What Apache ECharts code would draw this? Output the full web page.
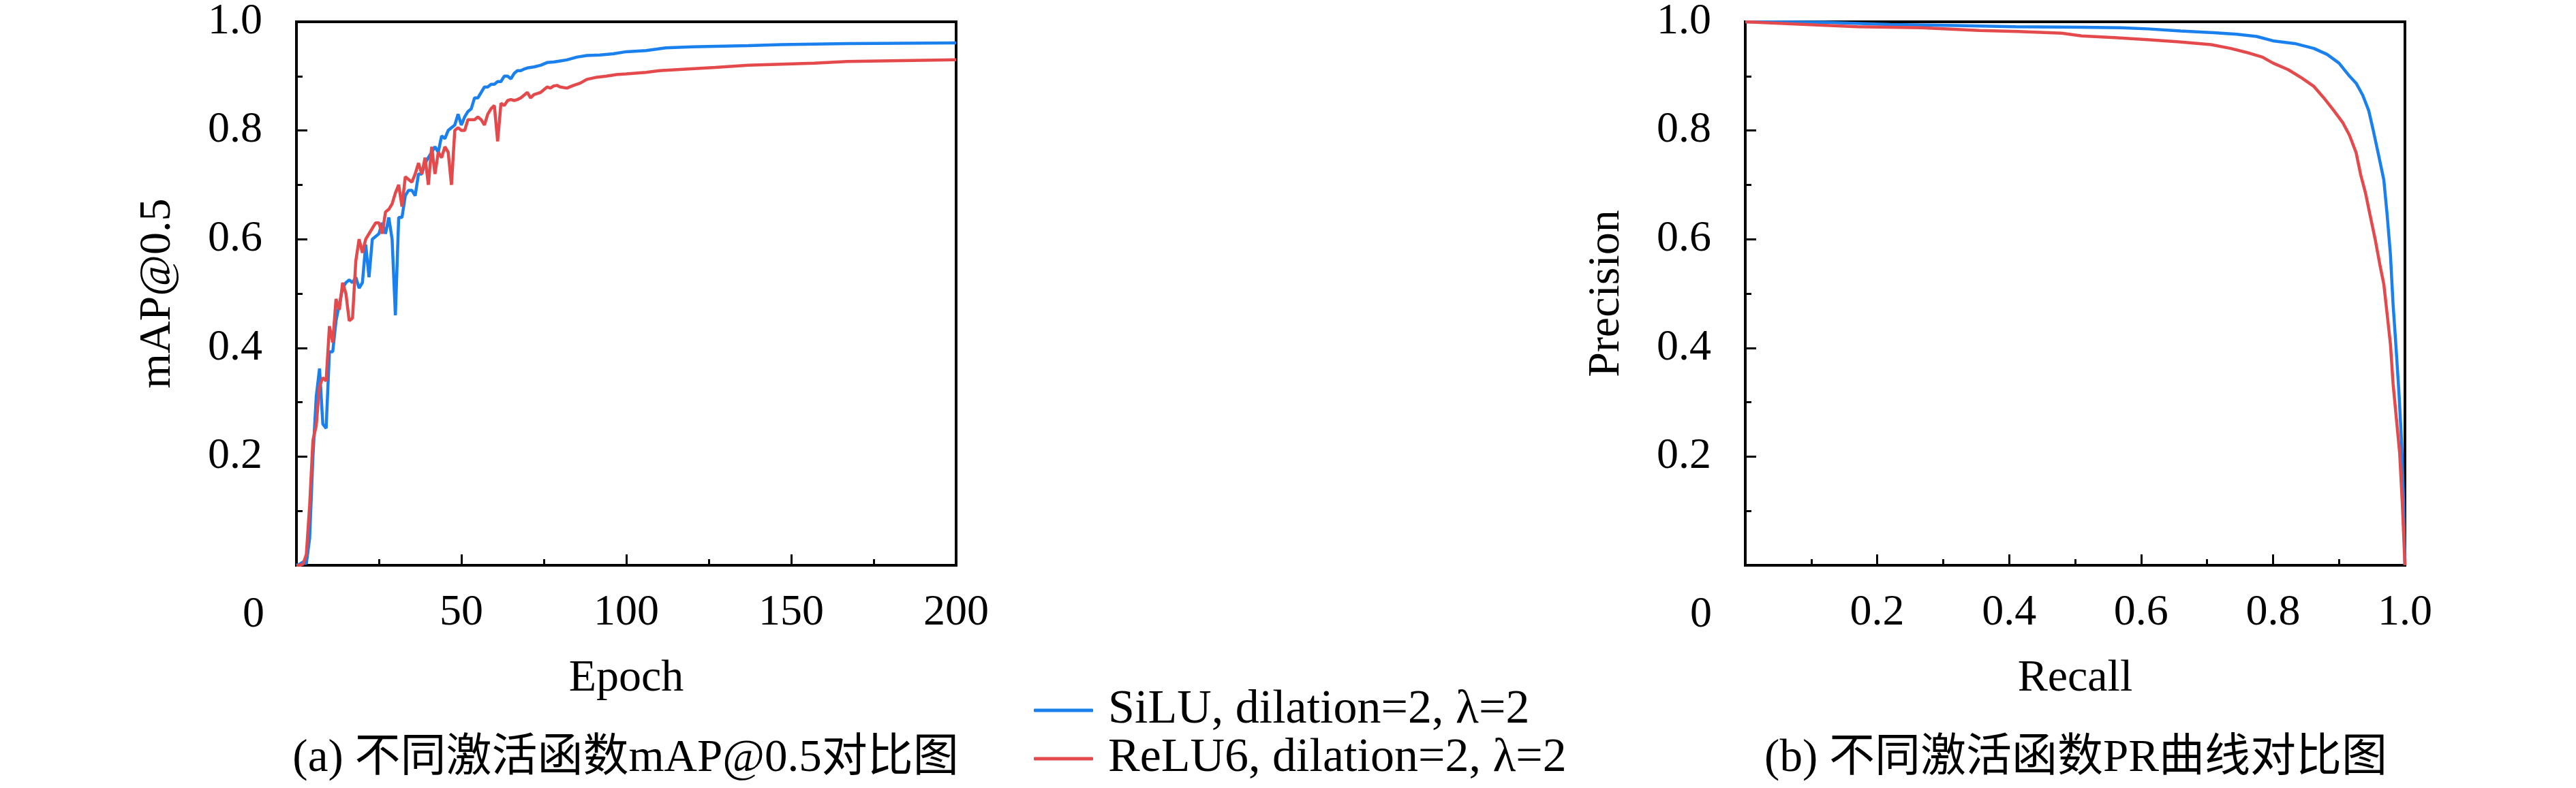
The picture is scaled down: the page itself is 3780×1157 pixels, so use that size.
<!DOCTYPE html>
<html>
<head>
<meta charset="utf-8">
<script src="https://cdn.jsdelivr.net/npm/echarts@6/dist/echarts.min.js"></script>
<style>
  html, body { margin: 0; padding: 0; background: #fff; }
  #chart { width: 3780px; height: 1157px; }
</style>
</head>
<body>
<div id="chart"></div>
<script>
// (a) mAP@0.5 vs epoch
const siluEpochs = [0,1,2,3,4,5,6,7,8,9,10,11,12,13,14,15,16,17,18,19,20,21,22,23,24,25,26,27,28,29,30,31,32,33,34,35,36,37,38,39,40,41,42,43,44,45,46,47,48,49,50,51,52,53,54,55,56,57,58,59,60,61,62,63,64,65,66,67,68,69,70,72,74,76,78,80,82,85,88,92,96,100,106,112,120,127,137,147,167,200];
const siluMap = [0,0.002,0.006,0.003,0.05,0.2,0.31,0.362,0.26,0.252,0.393,0.393,0.45,0.48,0.51,0.52,0.525,0.52,0.53,0.51,0.52,0.59,0.53,0.6,0.605,0.61,0.63,0.61,0.64,0.6,0.46,0.64,0.64,0.68,0.69,0.69,0.68,0.72,0.72,0.74,0.75,0.76,0.77,0.76,0.79,0.785,0.8,0.805,0.81,0.83,0.81,0.825,0.835,0.84,0.86,0.86,0.87,0.88,0.88,0.885,0.885,0.89,0.89,0.9,0.9,0.895,0.905,0.91,0.91,0.913,0.915,0.917,0.92,0.925,0.926,0.928,0.93,0.935,0.938,0.939,0.941,0.945,0.947,0.952,0.954,0.955,0.956,0.958,0.96,0.961];
const relu6Epochs = [0,1,2,3,4,5,6,7,8,9,10,11,12,13,14,15,16,17,18,19,20,21,22,23,24,25,26,27,28,29,30,31,32,33,34,35,36,37,38,39,40,41,42,43,44,45,46,47,48,49,50,51,52,53,54,55,56,57,58,59,60,61,62,63,64,65,66,67,68,69,70,71,72,73,74,75,76,77,78,79,80,82,84,86,88,91,94,97,100,106,110,118,127,137,147,157,167,187,200];
const relu6Map = [0,0,0.002,0.02,0.11,0.23,0.257,0.33,0.345,0.339,0.44,0.41,0.49,0.47,0.52,0.5,0.45,0.455,0.56,0.6,0.575,0.6,0.61,0.62,0.63,0.63,0.61,0.65,0.655,0.665,0.685,0.7,0.66,0.715,0.71,0.705,0.72,0.74,0.72,0.75,0.7,0.77,0.72,0.76,0.75,0.77,0.76,0.7,0.8,0.805,0.8,0.8,0.82,0.82,0.82,0.825,0.82,0.81,0.83,0.84,0.846,0.78,0.85,0.846,0.855,0.857,0.855,0.857,0.86,0.865,0.87,0.86,0.866,0.868,0.87,0.875,0.88,0.878,0.882,0.883,0.88,0.878,0.883,0.887,0.894,0.898,0.9,0.903,0.904,0.907,0.91,0.913,0.916,0.92,0.922,0.924,0.927,0.929,0.93];

// (b) precision-recall
const siluRecall = [0,0.12,0.22,0.32,0.41,0.51,0.57,0.61,0.66,0.71,0.745,0.775,0.8,0.833,0.862,0.882,0.9,0.916,0.926,0.936,0.945,0.952,0.96,0.968,0.973,0.978,0.982,0.986,0.991,0.995,0.998,1.0];
const siluPrecision = [1.0,0.999,0.995,0.993,0.991,0.99,0.989,0.987,0.983,0.98,0.977,0.973,0.965,0.96,0.951,0.94,0.924,0.9,0.887,0.865,0.837,0.8,0.755,0.709,0.645,0.572,0.48,0.41,0.316,0.224,0.114,0];
const relu6Recall = [0,0.11,0.17,0.267,0.355,0.414,0.48,0.51,0.56,0.61,0.658,0.706,0.736,0.765,0.784,0.8,0.823,0.843,0.862,0.877,0.892,0.906,0.916,0.926,0.933,0.94,0.947,0.955,0.962,0.968,0.973,0.978,0.982,0.987,0.992,0.996,1.0];
const relu6Precision = [1.0,0.994,0.991,0.989,0.984,0.982,0.979,0.974,0.971,0.967,0.963,0.958,0.951,0.942,0.935,0.924,0.912,0.897,0.881,0.86,0.837,0.814,0.791,0.759,0.718,0.686,0.645,0.599,0.553,0.517,0.462,0.407,0.334,0.27,0.206,0.114,0];

const seriesNames = ['SiLU, dilation=2, λ=2', 'ReLU6, dilation=2, λ=2'];
const blue = '#1a80ee';
const red = '#e44a4c';
const font = "'Liberation Serif', 'Noto Sans CJK SC', serif";

const zip = (xs, ys) => xs.map((x, i) => [x, ys[i]]);

const frame = { lineStyle: { color: '#000', width: 4 } };
const ticks = { inside: true, length: 16, lineStyle: { color: '#000', width: 3 } };
const minor = { show: true, splitNumber: 2, length: 9, lineStyle: { color: '#000', width: 3 } };

function xAxis(gridIndex, max, interval, name, fmt) {
    return {
        type: 'value', gridIndex, min: 0, max, interval,
        name, nameLocation: 'middle', nameGap: 134,
        nameTextStyle: { fontFamily: font, fontSize: 66, color: '#000' },
        axisLine: frame, axisTick: ticks, minorTick: minor,
        splitLine: { show: false },
        axisLabel: { margin: 38, fontFamily: font, fontSize: 64, color: '#000',
            formatter: v => v === 0 ? '' : fmt(v) }
    };
}

function yAxis(gridIndex, name) {
    return {
        type: 'value', gridIndex, min: 0, max: 1, interval: 0.2,
        name, nameLocation: 'middle', nameGap: 170, nameRotate: 90,
        nameTextStyle: { fontFamily: font, fontSize: 66, color: '#000' },
        axisLine: frame, axisTick: ticks, minorTick: minor,
        splitLine: { show: false },
        axisLabel: { margin: 50, fontFamily: font, fontSize: 64, color: '#000',
            padding: [14, 0, 0, 0],
            formatter: v => v === 0 ? '' : v.toFixed(1) }
    };
}

function line(name, color, data, i) {
    return {
        type: 'line', name, data, xAxisIndex: i, yAxisIndex: i,
        symbol: 'none', showSymbol: false,
        lineStyle: { color, width: 4.5 }, itemStyle: { color }
    };
}

// one legend box per row, so the two rows never wrap into columns
function legendRow(name, top) {
    return {
        left: 1517, top, padding: 0,
        icon: 'roundRect', itemWidth: 87, itemHeight: 5,
        data: [name],
        textStyle: { fontFamily: font, fontSize: 70, color: '#000', padding: [0, 0, 0, 17] }
    };
}

const chart = echarts.init(document.getElementById('chart'));
chart.setOption({
    backgroundColor: '#fff',
    animation: false,
    grid: [
        { left: 435, top: 24, width: 968, height: 806, show: true, borderColor: '#000', borderWidth: 4 },
        { left: 2561, top: 24, width: 968, height: 806, show: true, borderColor: '#000', borderWidth: 4 }
    ],
    xAxis: [
        xAxis(0, 200, 50, 'Epoch', v => String(v)),
        xAxis(1, 1, 0.2, 'Recall', v => v.toFixed(1))
    ],
    yAxis: [yAxis(0, 'mAP@0.5'), yAxis(1, 'Precision')],
    legend: [legendRow(seriesNames[0], 1008), legendRow(seriesNames[1], 1079)],
    graphic: [
        { type: 'text', style: { text: '0', x: 372, y: 903, align: 'center', verticalAlign: 'middle', fontFamily: font, fontSize: 64, fill: '#000' } },
        { type: 'text', style: { text: '0', x: 2496, y: 903, align: 'center', verticalAlign: 'middle', fontFamily: font, fontSize: 64, fill: '#000' } },
        { type: 'text', style: { text: '(a) 不同激活函数mAP@0.5对比图', x: 918, y: 1114, align: 'center', verticalAlign: 'middle', fontFamily: font, fontSize: 67, fill: '#000' } },
        { type: 'text', style: { text: '(b) 不同激活函数PR曲线对比图', x: 3046, y: 1114, align: 'center', verticalAlign: 'middle', fontFamily: font, fontSize: 67, fill: '#000' } }
    ],
    series: [
        line(seriesNames[0], blue, zip(siluEpochs, siluMap), 0),
        line(seriesNames[1], red, zip(relu6Epochs, relu6Map), 0),
        line(seriesNames[0], blue, zip(siluRecall, siluPrecision), 1),
        line(seriesNames[1], red, zip(relu6Recall, relu6Precision), 1)
    ]
});
</script>
</body>
</html>
